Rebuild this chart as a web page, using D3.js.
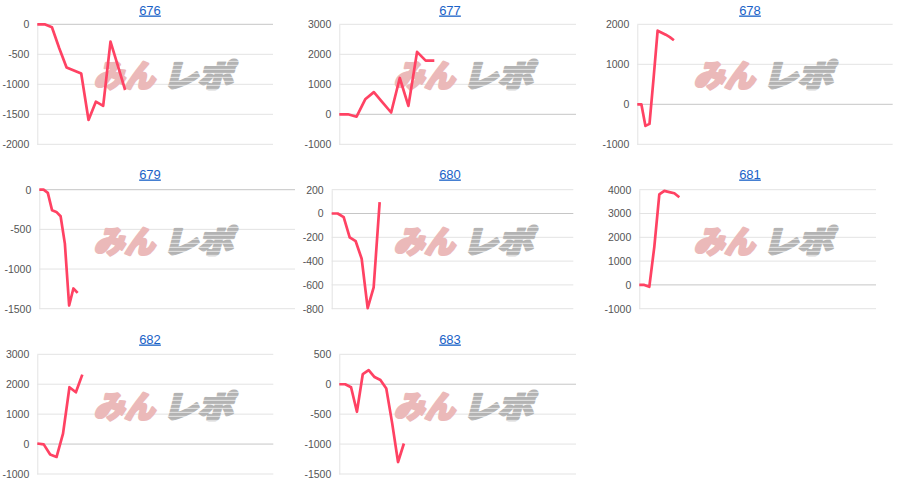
<!DOCTYPE html>
<html>
<head>
<meta charset="utf-8">
<script src="https://cdn.jsdelivr.net/npm/d3@7"></script>
<style>
  body { margin: 0; background: #fff; }
  svg { display: block; }
</style>
</head>
<body>
<svg id="chart" width="900" height="495"></svg>
<script>
// chart titles
const chartIds = ["676", "677", "678", "679", "680", "681", "682", "683"];

// balance per data point
const values676 = [0, 0, -50, -400, -720, -770, -820, -1595, -1290, -1360, -290, -690, -1095];
const values677 = [0, 0, -80, 500, 740, 400, 60, 1210, 280, 2080, 1790, 1790];
const values678 = [0, 0, -540, -490, 650, 1840, 1790, 1740, 1680, 1600];
const values679 = [0, 0, -40, -260, -280, -335, -680, -1460, -1245, -1300];
const values680 = [0, 0, -30, -200, -233, -380, -795, -620, 95];
const values681 = [0, 0, -80, 1600, 3800, 3950, 3900, 3850, 3680];
const values682 = [20, -10, -350, -430, 350, 1900, 1730, 2320];
const values683 = [0, 0, -50, -460, 170, 235, 120, 70, -70, -650, -1300, -990];

// y tick labels
const ticks676 = [-2000, -1500, -1000, -500, 0];
const ticks677 = [-1000, 0, 1000, 2000, 3000];
const ticks678 = [-1000, 0, 1000, 2000];
const ticks679 = [-1500, -1000, -500, 0];
const ticks680 = [-800, -600, -400, -200, 0, 200];
const ticks681 = [-1000, 0, 1000, 2000, 3000, 4000];
const ticks682 = [-1000, 0, 1000, 2000, 3000];
const ticks683 = [-1500, -1000, -500, 0, 500];

const allValues = [values676, values677, values678, values679, values680, values681, values682, values683];
const allTicks = [ticks676, ticks677, ticks678, ticks679, ticks680, ticks681, ticks682, ticks683];

// layout (panel relative): plot left/right, number of x slots across the plot
const plotLeft  = [37.3, 39.3, 37.3, 39.3, 31.7, 39.3, 37.3, 39.3];
const plotRight = [273, 276, 292.7, 295, 273.3, 276, 273.3, 276];
const xSlots    = [32.2, 27.4, 62.8, 60, 40.3, 47.3, 36.7, 40.3];

const rows = [
  { title: 10, top: 24.3, bottom: 144.3, mark: 62 },
  { title: 174, top: 189.7, bottom: 308.7, mark: 228 },
  { title: 339, top: 354.3, bottom: 474, mark: 393 }
];

const lineColor = "#ff4263";
const gridColor = "#e3e3e3";
const baseColor = "#c6c6c6";
const font = "Arial, 'Liberation Sans', sans-serif";

const svg = d3.select("#chart");

// stripes for the grey half of the watermark
const defs = svg.append("defs");
const pat = defs.append("pattern")
  .attr("id", "stripes")
  .attr("patternUnits", "userSpaceOnUse")
  .attr("width", 8).attr("height", 4);
pat.append("rect").attr("width", 8).attr("height", 4).attr("fill", "#b3b3b3");
pat.append("rect").attr("y", 3).attr("width", 8).attr("height", 1).attr("fill", "#e2e2e2");

chartIds.forEach((id, i) => {
  const col = i % 3, r = rows[Math.floor(i / 3)];
  const g = svg.append("g").attr("transform", `translate(${col * 300},0)`);
  const ticks = allTicks[i];
  const vals = allValues[i];
  const left = plotLeft[i], right = plotRight[i];

  const x = d3.scaleLinear().domain([0, xSlots[i]]).range([left, right]);
  const y = d3.scaleLinear().domain(d3.extent(ticks)).range([r.bottom, r.top]);

  // title link
  g.append("text")
    .attr("x", 150).attr("y", r.title + 4.5)
    .attr("text-anchor", "middle")
    .attr("fill", "#1a62c7")
    .style("font", `13px ${font}`)
    .style("text-decoration", "underline")
    .text(id);

  // gridlines
  g.append("g").selectAll("line")
    .data(ticks.filter(d => d !== 0))
    .join("line")
    .attr("x1", left).attr("x2", right)
    .attr("y1", d => y(d)).attr("y2", d => y(d))
    .attr("stroke", gridColor);

  // y axis labels
  const ax = g.append("g")
    .attr("transform", `translate(${left},0)`)
    .call(d3.axisLeft(y).tickValues(ticks).tickSize(0).tickPadding(8).tickFormat(d => String(d)));
  ax.select(".domain").attr("stroke", gridColor);
  ax.selectAll("text")
    .attr("fill", "#555")
    .style("font", `10.5px ${font}`);

  // zero baseline
  g.append("line")
    .attr("x1", left).attr("x2", right)
    .attr("y1", y(0)).attr("y2", y(0))
    .attr("stroke", baseColor);

  // watermark
  const wm = g.append("g")
    .attr("transform", `translate(93,${r.mark}) skewX(-14)`)
    .style("font-family", "'Noto Sans CJK JP', sans-serif")
    .style("font-weight", 900)
    .style("font-size", "31px")
    .attr("stroke-width", 2.6)
    .attr("stroke-linejoin", "round");
  wm.append("text")
    .attr("x", 7).attr("y", 25)
    .attr("textLength", 61).attr("lengthAdjust", "spacingAndGlyphs")
    .attr("fill", "#ebb9b9").attr("stroke", "#ebb9b9")
    .text("みん");
  wm.append("text")
    .attr("x", 76).attr("y", 25)
    .attr("textLength", 70).attr("lengthAdjust", "spacingAndGlyphs")
    .attr("fill", "url(#stripes)").attr("stroke", "url(#stripes)")
    .text("レポ");

  // data line
  g.append("path")
    .datum(vals)
    .attr("fill", "none")
    .attr("stroke", lineColor)
    .attr("stroke-width", 2.7)
    .attr("stroke-linejoin", "round")
    .attr("d", d3.line().x((d, j) => x(j)).y(d => y(d)));
});
</script>
</body>
</html>
